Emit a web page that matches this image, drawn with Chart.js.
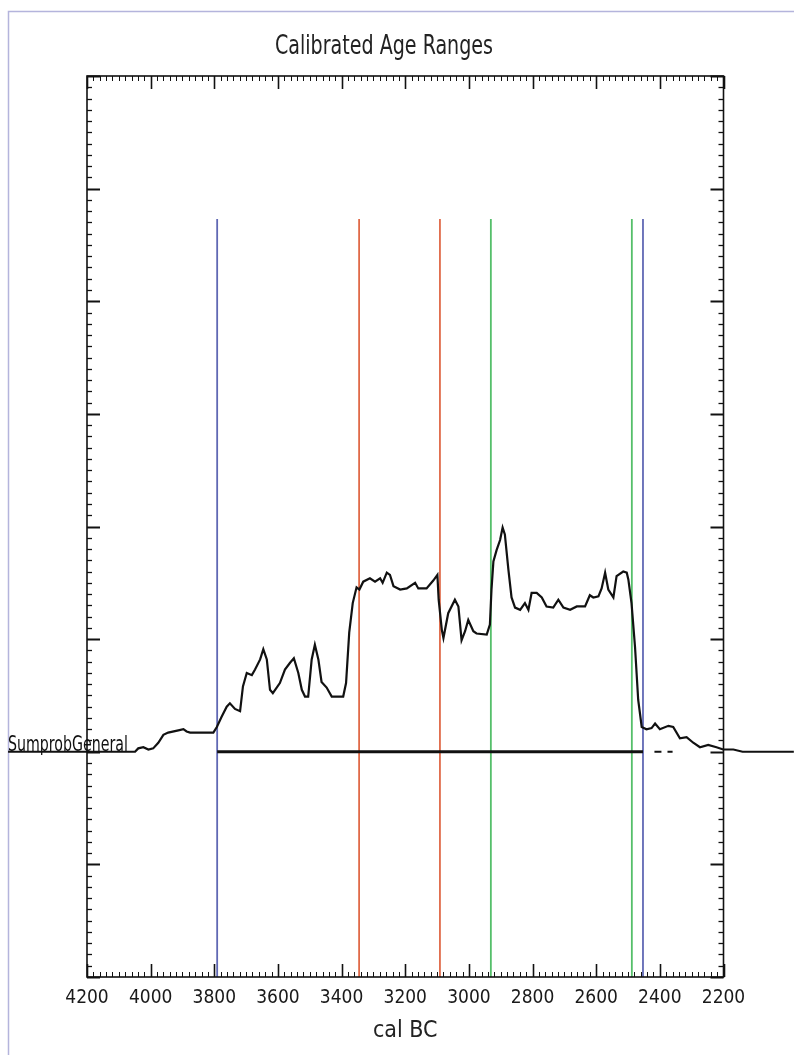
<!DOCTYPE html>
<html>
<head>
<meta charset="utf-8">
<script src="https://cdn.jsdelivr.net/npm/chart.js@4.4.0/dist/chart.umd.min.js"></script>
<style>
  html, body { margin: 0; padding: 0; background: #fff; }
  #wrap { width: 794px; height: 1055px; position: relative; }
</style>
</head>
<body>
<div id="wrap"><canvas id="ageChart"></canvas></div>
<script>
// summed probability (cal BC, relative height)
const years = [
  4448, 4049, 4039, 4023, 4007, 3992, 3976, 3960, 3945, 3913,
  3897, 3887, 3876, 3803, 3792, 3777, 3761, 3751, 3735, 3719,
  3710, 3698, 3682, 3672, 3656, 3646, 3635, 3625, 3616, 3594,
  3578, 3562, 3550, 3536, 3525, 3515, 3505, 3494, 3484, 3473,
  3463, 3447, 3431, 3395, 3386, 3376, 3365, 3353, 3344, 3332,
  3311, 3295, 3279, 3271, 3258, 3248, 3237, 3216, 3195, 3169,
  3159, 3133, 3112, 3099, 3095, 3085, 3080, 3065, 3044, 3033,
  3023, 3012, 3002, 2986, 2976, 2944, 2934, 2929, 2923, 2913,
  2902, 2894, 2887, 2876, 2866, 2855, 2839, 2824, 2813, 2803,
  2787, 2771, 2756, 2735, 2719, 2703, 2682, 2661, 2635, 2620,
  2609, 2593, 2583, 2572, 2562, 2546, 2536, 2515, 2504, 2499,
  2489, 2478, 2468, 2457, 2442, 2426, 2415, 2400, 2373, 2358,
  2337, 2316, 2295, 2274, 2248, 2222, 2201, 2169, 2140, 1979
];
const sumprob = [
  0, 0, 0.03, 0.04, 0.02, 0.03, 0.08, 0.15, 0.17, 0.19,
  0.20, 0.18, 0.17, 0.17, 0.22, 0.31, 0.40, 0.43, 0.38, 0.36,
  0.58, 0.70, 0.68, 0.73, 0.82, 0.91, 0.82, 0.55, 0.52, 0.61,
  0.73, 0.79, 0.83, 0.70, 0.55, 0.49, 0.49, 0.82, 0.95, 0.82,
  0.62, 0.57, 0.49, 0.49, 0.61, 1.06, 1.32, 1.46, 1.44, 1.51,
  1.54, 1.51, 1.54, 1.50, 1.59, 1.57, 1.47, 1.44, 1.45, 1.50,
  1.45, 1.45, 1.52, 1.57, 1.35, 1.08, 1.01, 1.23, 1.35, 1.29,
  0.99, 1.07, 1.17, 1.07, 1.05, 1.04, 1.13, 1.44, 1.69, 1.79,
  1.88, 1.99, 1.93, 1.62, 1.37, 1.28, 1.26, 1.32, 1.26, 1.41,
  1.41, 1.37, 1.29, 1.28, 1.35, 1.28, 1.26, 1.29, 1.29, 1.39,
  1.37, 1.38, 1.45, 1.59, 1.44, 1.37, 1.56, 1.60, 1.59, 1.53,
  1.32, 0.93, 0.46, 0.22, 0.20, 0.21, 0.25, 0.20, 0.23, 0.22,
  0.12, 0.13, 0.08, 0.04, 0.06, 0.04, 0.02, 0.02, 0, 0
];

// range boundaries (vertical lines)
const blueBounds = [3791, 2453];
const redBounds = [3345, 3091];
const greenBounds = [2931, 2488];
const boundTop = 4.73;

// range bar on the baseline and the two small dashed pieces
const rangeBar = [3791, 2453];
const rangeDashes = [[2417, 2395], [2376, 2360]];

const xTicks = { min: 2200, max: 4200, step: 200 };
const yRange = { min: -2, max: 6 };

const NARROW = '"Liberation Sans Narrow", "Arial Narrow", "DejaVu Sans Condensed", sans-serif';

const vLine = (yr, color) => ({
    data: [{ x: yr, y: yRange.min }, { x: yr, y: boundTop }],
    borderColor: color,
    borderWidth: 1.8,
    pointRadius: 0
});

const dashData = [];
rangeDashes.forEach((d, i) => {
    if (i > 0) dashData.push({ x: (rangeDashes[i - 1][1] + d[0]) / 2, y: null });
    dashData.push({ x: d[0], y: 0 }, { x: d[1], y: 0 });
});

// frame, inward ticks and the free text
const oxcalFrame = {
    id: 'oxcalFrame',
    beforeDraw(chart) {
        const ctx = chart.ctx;
        ctx.save();
        ctx.strokeStyle = '#b4b4dc';
        ctx.lineWidth = 1.5;
        ctx.beginPath();
        ctx.moveTo(8.5, 1055);
        ctx.lineTo(8.5, 11.5);
        ctx.lineTo(794, 11.5);
        ctx.stroke();
        ctx.restore();
    },
    afterDraw(chart) {
        const { ctx, chartArea: a, scales: { x, y } } = chart;
        ctx.save();
        ctx.strokeStyle = '#111';
        const seg = (x1, y1, x2, y2, w) => {
            ctx.lineWidth = w;
            ctx.beginPath();
            ctx.moveTo(x1, y1);
            ctx.lineTo(x2, y2);
            ctx.stroke();
        };
        for (let v = xTicks.min; v <= xTicks.max; v += 20) {
            const px = Math.round(x.getPixelForValue(v)) + 0.5;
            const major = v % xTicks.step === 0;
            const len = major ? 13 : 5;
            seg(px, a.top, px, a.top + len, major ? 1.6 : 1);
            seg(px, a.bottom, px, a.bottom - len, major ? 1.6 : 1);
        }
        for (let i = yRange.min * 10; i <= yRange.max * 10; i++) {
            const py = Math.round(y.getPixelForValue(i / 10)) + 0.5;
            const major = i % 10 === 0;
            const len = major ? 13 : 5;
            seg(a.left, py, a.left + len, py, major ? 2 : 1.3);
            seg(a.right, py, a.right - len, py, major ? 2 : 1.3);
        }
        ctx.lineWidth = 1.6;
        ctx.strokeRect(a.left, a.top, a.right - a.left, a.bottom - a.top);

        ctx.fillStyle = '#222';
        ctx.textBaseline = 'alphabetic';
        ctx.textAlign = 'center';
        ctx.font = '26px ' + NARROW;
        ctx.fillText('Calibrated Age Ranges', 384, 54, 218);
        ctx.textAlign = 'left';
        ctx.fillStyle = '#111';
        ctx.font = '21px ' + NARROW;
        ctx.fillText('SumprobGeneral', 8, y.getPixelForValue(0) - 1, 120);
        ctx.restore();
    }
};

const ctx = document.getElementById('ageChart').getContext('2d');
const ageChart = new Chart(ctx, {
    type: 'line',
    data: {
        datasets: [
            {
                data: years.map((yr, i) => ({ x: yr, y: sumprob[i] })),
                borderColor: '#111',
                borderWidth: 2.2,
                pointRadius: 0,
                tension: 0,
                clip: false
            },
            {
                data: rangeBar.map(yr => ({ x: yr, y: 0 })),
                borderColor: '#111',
                borderWidth: 3,
                pointRadius: 0
            },
            {
                data: dashData,
                borderColor: '#111',
                borderWidth: 2,
                pointRadius: 0,
                spanGaps: false
            },
            ...blueBounds.map(yr => vLine(yr, '#6068b4')),
            ...redBounds.map(yr => vLine(yr, '#e06a48')),
            ...greenBounds.map(yr => vLine(yr, '#55bf6a'))
        ]
    },
    options: {
        responsive: true,
        maintainAspectRatio: false,
        animation: false,
        layout: { padding: { top: 76, left: 87, right: 70.5, bottom: 0 } },
        plugins: {
            legend: { display: false },
            tooltip: { enabled: false },
            title: { display: false }
        },
        scales: {
            x: {
                type: 'linear',
                min: xTicks.min,
                max: xTicks.max,
                reverse: true,
                grid: { display: false, drawTicks: false },
                border: { display: false },
                ticks: {
                    stepSize: xTicks.step,
                    padding: 10,
                    color: '#1a1a1a',
                    maxRotation: 0,
                    autoSkip: false,
                    font: { family: NARROW, size: 19 },
                    callback: v => String(v)
                },
                title: {
                    display: true,
                    text: 'cal BC',
                    color: '#222',
                    font: { family: NARROW, size: 23 },
                    padding: { top: 0, bottom: 10 }
                },
                afterFit(scale) { scale.height = 78; }
            },
            y: {
                type: 'linear',
                min: yRange.min,
                max: yRange.max,
                display: false
            }
        }
    },
    plugins: [oxcalFrame]
});
</script>
</body>
</html>
